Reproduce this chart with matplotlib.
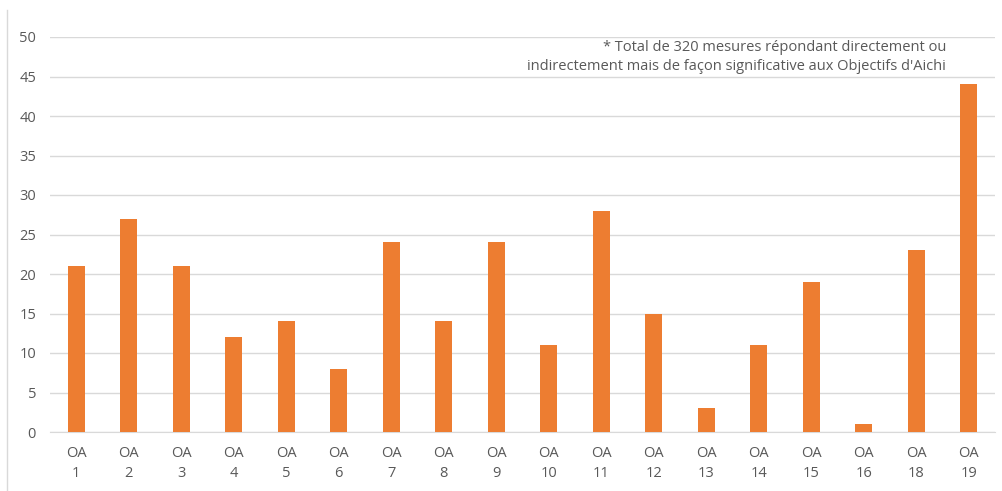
import matplotlib
matplotlib.use("Agg")
import matplotlib.pyplot as plt
from matplotlib.lines import Line2D
import numpy as np

categories = ["OA\n1", "OA\n2", "OA\n3", "OA\n4", "OA\n5", "OA\n6", "OA\n7", "OA\n8", "OA\n9",
              "OA\n10", "OA\n11", "OA\n12", "OA\n13", "OA\n14", "OA\n15", "OA\n16", "OA\n18", "OA\n19"]
values = [21, 27, 21, 12, 14, 8, 24, 14, 24, 11, 28, 15, 3, 11, 19, 1, 23, 44]
yticks = list(range(0, 55, 5))
note = "* Total de 320 mesures répondant directement ou\nindirectement mais de façon significative aux Objectifs d'Aichi"

plt.rcParams['font.family'] = ['Open Sans', 'DejaVu Sans']

fig = plt.figure(figsize=(10.02, 4.91), dpi=100)
ax = fig.add_axes([50/1002, 1-432/491, (995-50)/1002, (432-37)/491])
x = np.arange(len(categories))
ax.bar(x, values, width=0.32, color="#ED7D31", zorder=3)
ax.set_xlim(-0.5, len(categories)-0.5)
ax.set_ylim(0, 50)
ax.set_yticks(yticks)
ax.set_xticks(x)
ax.set_xticklabels(categories, linespacing=1.5)
ax.yaxis.grid(True, color="#D9D9D9", linewidth=1, zorder=0)
for s in ["top", "right", "left"]:
    ax.spines[s].set_visible(False)
ax.spines["bottom"].set_color("#D9D9D9")
ax.tick_params(axis="both", length=0, colors="#595959", labelsize=10.5)
ax.tick_params(axis="y", pad=10)
ax.tick_params(axis="x", pad=10)
ax.text(946/1002, 1-57/491, note, transform=fig.transFigure, ha="right", va="center",
        multialignment="right", fontsize=10.5, color="#595959", linespacing=1.4)
fig.add_artist(Line2D([7/1002, 7/1002], [0, 1-10/491], transform=fig.transFigure,
                      color="#D9D9D9", linewidth=1))
fig.savefig("out.png", dpi=100)
